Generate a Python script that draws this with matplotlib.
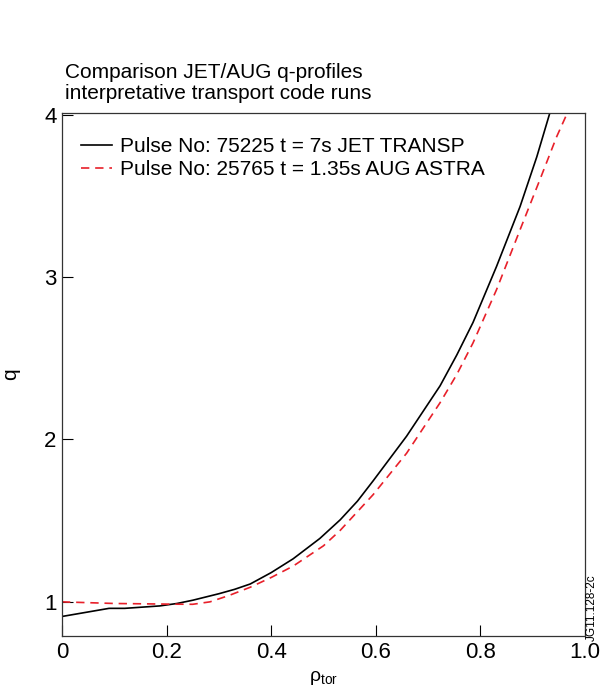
import numpy as np
import matplotlib
matplotlib.use("Agg")
import matplotlib.pyplot as plt

plt.rcParams["font.family"] = ["Liberation Sans", "DejaVu Sans"]

# q-profiles against normalised toroidal flux radius
rho_jet = [0.0, 0.09, 0.12, 0.187, 0.22, 0.25, 0.30, 0.33, 0.36, 0.40,
           0.442, 0.493, 0.532, 0.565, 0.595, 0.659, 0.723, 0.755, 0.786,
           0.831, 0.876, 0.908, 0.932]
q_jet = [0.91, 0.96, 0.96, 0.975, 0.99, 1.01, 1.05, 1.077, 1.11, 1.18,
         1.265, 1.39, 1.505, 1.62, 1.745, 2.02, 2.33, 2.52, 2.72,
         3.065, 3.434, 3.74, 4.0]

rho_aug = [0.0, 0.10, 0.206, 0.25, 0.283, 0.32, 0.36, 0.40, 0.442, 0.50,
           0.532, 0.595, 0.659, 0.723, 0.755, 0.786, 0.831, 0.876, 0.914,
           0.946, 0.965]
q_aug = [1.0, 0.99, 0.986, 0.985, 1.0, 1.04, 1.09, 1.15, 1.22, 1.345,
         1.44, 1.66, 1.915, 2.226, 2.40, 2.594, 2.922, 3.291, 3.60,
         3.864, 4.0]

label_jet = "Pulse No: 75225 t = 7s JET TRANSP"
label_aug = "Pulse No: 25765 t = 1.35s AUG ASTRA"
x_ticks = [0.0, 0.2, 0.4, 0.6, 0.8, 1.0]
x_tick_labels = ["0", "0.2", "0.4", "0.6", "0.8", "1.0"]
y_ticks = [1, 2, 3, 4]

fig = plt.figure(figsize=(6.03, 6.93), dpi=100)
ax = fig.add_axes([0.1028, 0.0823, 0.8672, 0.7547])

ax.plot(rho_jet, q_jet, color="black", lw=1.2, label=label_jet)
ax.plot(rho_aug, q_aug, color="#e8202a", lw=1.2, dashes=(5, 3.5),
        label=label_aug)

ax.set_xlim(0, 1.0)
ax.set_ylim(0.79, 4.01)
ax.set_xticks(x_ticks)
ax.set_xticklabels(x_tick_labels)
ax.set_yticks(y_ticks)
ax.tick_params(direction="in", length=8, width=0.8, labelsize=16, pad=4,
               top=False, right=False)
for spine in ax.spines.values():
    spine.set_linewidth(0.9)
    spine.set_color("#333333")

ax.set_xlabel("ρ$_\\mathregular{tor}$", fontsize=14, labelpad=5)
fig.text(0.018, 0.46, "q", rotation=90, fontsize=15, ha="center",
         va="center")

ax.legend(loc="upper left", frameon=False, fontsize=15,
          handlelength=1.5, handletextpad=0.4, labelspacing=0.2,
          bbox_to_anchor=(0.0, 0.99), borderaxespad=0.5)

fig.text(0.108, 0.851, "Comparison JET/AUG q-profiles\n"
         "interpretative transport code runs",
         fontsize=15, ha="left", va="bottom", linespacing=1.15)

fig.text(0.981, 0.123, "JG11.128-2c", rotation=90, fontsize=8.5,
         ha="center", va="center")

fig.savefig("out.png", dpi=100, facecolor="white")
